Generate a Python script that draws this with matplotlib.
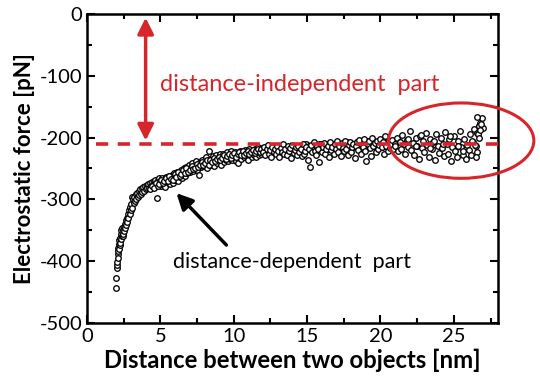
import numpy as np
import matplotlib.pyplot as plt
from matplotlib.patches import Ellipse
from matplotlib.ticker import MultipleLocator

plt.rcParams['font.family'] = ['Lato', 'DejaVu Sans']
plt.rcParams['axes.unicode_minus'] = False

# steep part, short distances
dist_near = [1.98, 2.00, 2.03, 2.05, 2.07, 2.09, 2.10, 2.12, 2.14, 2.16,
             2.18, 2.20, 2.23, 2.25, 2.28, 2.30, 2.33, 2.35, 2.38, 2.40,
             2.43, 2.46, 2.49, 2.52, 2.55, 2.58, 2.61, 2.64, 2.67, 2.70,
             2.74, 2.78, 2.82, 2.86, 2.90, 2.94, 2.98, 3.02, 3.07, 3.10,
             3.14, 3.18, 3.22, 3.27, 3.32, 3.37, 3.42, 3.47, 3.52, 3.57,
             3.62, 3.67, 3.72, 3.77, 3.82, 3.88, 3.94, 4.00, 4.06, 4.12,
             4.18, 4.24, 4.30, 4.36, 4.42, 4.48, 4.54, 4.60, 4.66, 4.72,
             4.77, 4.82, 4.88, 4.94]
force_near = [-443, -427, -411, -406, -401, -388, -395, -378, -384, -372,
              -380, -366, -374, -362, -370, -356, -364, -350, -359, -346,
              -360, -350, -356, -344, -352, -340, -347, -334, -341, -330,
              -336, -324, -330, -318, -324, -312, -318, -308, -296, -314,
              -300, -306, -296, -302, -292, -299, -289, -296, -286, -293,
              -284, -291, -282, -288, -280, -286, -279, -284, -277, -282,
              -275, -281, -274, -279, -272, -277, -270, -276, -269, -274,
              -298, -268, -273, -266]

# bending part
dist_mid = [5.00, 5.07, 5.14, 5.21, 5.28, 5.35, 5.42, 5.49, 5.56, 5.63,
            5.70, 5.77, 5.84, 5.91, 5.98, 6.05, 6.12, 6.19, 6.26, 6.33,
            6.40, 6.47, 6.54, 6.61, 6.68, 6.75, 6.82, 6.89, 6.96, 7.03,
            7.10, 7.17, 7.24, 7.31, 7.38, 7.45, 7.52, 7.59, 7.66, 7.73,
            7.80, 7.87, 7.94, 8.01, 8.08, 8.15, 8.22, 8.29, 8.36, 8.43,
            8.50, 8.57, 8.64, 8.71, 8.78, 8.85, 8.92, 8.99, 9.06, 9.13,
            9.20, 9.27, 9.34, 9.41, 9.48, 9.55, 9.62, 9.69, 9.76, 9.83,
            9.90, 9.97, 10.04, 10.11, 10.18, 10.25, 10.32, 10.39, 10.46, 10.53,
            10.60, 10.67, 10.74, 10.81, 10.88, 10.95, 11.02, 11.09, 11.16, 11.23,
            11.30, 11.37, 11.44, 11.51, 11.58, 11.65, 11.72, 11.79, 11.86, 11.93]
force_mid = [-270, -278, -266, -275, -268, -280, -264, -272, -262, -276,
             -266, -260, -273, -258, -268, -262, -255, -270, -258, -264,
             -252, -266, -256, -250, -262, -247, -258, -252, -244, -256,
             -248, -242, -254, -246, -250, -238, -252, -244, -260, -240,
             -248, -236, -246, -242, -232, -250, -238, -222, -244, -235,
             -240, -230, -246, -236, -228, -242, -233, -238, -226, -244,
             -232, -226, -240, -230, -236, -224, -238, -229, -234, -222,
             -236, -228, -232, -224, -238, -226, -241, -230, -222, -234,
             -226, -232, -220, -230, -224, -236, -219, -228, -225, -232,
             -222, -228, -218, -231, -224, -216, -229, -221, -226, -217]

# flat part
dist_far = [12.00, 12.08, 12.16, 12.24, 12.32, 12.40, 12.48, 12.56, 12.64, 12.72,
            12.80, 12.88, 12.96, 13.04, 13.12, 13.20, 13.28, 13.36, 13.44, 13.52,
            13.60, 13.68, 13.76, 13.84, 13.92, 14.00, 14.08, 14.16, 14.24, 14.32,
            14.40, 14.48, 14.56, 14.64, 14.72, 14.80, 14.88, 14.96, 15.04, 15.12,
            15.20, 15.28, 15.36, 15.44, 15.52, 15.60, 15.68, 15.76, 15.84, 15.92,
            16.00, 16.08, 16.16, 16.24, 16.32, 16.40, 16.48, 16.56, 16.64, 16.72,
            16.80, 16.88, 16.96, 17.04, 17.12, 17.20, 17.28, 17.36, 17.44, 17.52,
            17.60, 17.68, 17.76, 17.84, 17.92, 18.00, 18.08, 18.16, 18.24, 18.32,
            18.40, 18.48, 18.56, 18.64, 18.72, 18.80, 18.88, 18.96, 19.04, 19.12,
            19.20, 19.28, 19.36, 19.44, 19.52, 19.60, 19.68, 19.76, 19.84, 19.92,
            20.00, 20.08, 20.16, 20.24, 20.32, 20.40, 20.48, 20.56, 20.64, 20.72,
            20.80, 20.88, 20.96]
force_far = [-224, -216, -228, -219, -212, -226, -220, -231, -215, -223,
             -218, -227, -213, -221, -232, -217, -224, -211, -226, -219,
             -229, -214, -222, -217, -233, -212, -225, -220, -216, -228,
             -213, -223, -218, -230, -210, -226, -221, -215, -236, -219,
             -247, -212, -224, -208, -221, -229, -214, -219, -240, -211,
             -223, -216, -209, -227, -218, -213, -231, -207, -220, -215,
             -226, -211, -219, -206, -224, -214, -230, -209, -217, -222,
             -205, -218, -228, -212, -208, -223, -215, -210, -233, -213,
             -207, -220, -204, -226, -212, -216, -203, -222, -238, -211,
             -206, -217, -230, -201, -214, -209, -224, -205, -219, -212,
             -203, -216, -208, -227, -198, -213, -221, -206, -217, -210,
             -204, -219, -211]

# second sweep filling the band between 4 and 21 nm
dist_fill = [4.33, 4.45, 4.57, 4.69, 4.81, 4.93, 5.04, 5.16, 5.27, 5.39,
             5.51, 5.62, 5.74, 5.85, 5.97, 6.09, 6.20, 6.32, 6.43, 6.55,
             6.67, 6.78, 6.90, 7.01, 7.13, 7.25, 7.36, 7.48, 7.59, 7.71,
             7.83, 7.94, 8.06, 8.17, 8.29, 8.41, 8.52, 8.64, 8.75, 8.87,
             8.99, 9.10, 9.22, 9.33, 9.45, 9.57, 9.68, 9.80, 9.91, 10.03,
             10.15, 10.26, 10.38, 10.49, 10.61, 10.73, 10.84, 10.96, 11.07, 11.19,
             11.31, 11.42, 11.54, 11.65, 11.77, 11.89, 12.00, 12.12, 12.23, 12.35,
             12.47, 12.58, 12.70, 12.81, 12.93, 13.05, 13.16, 13.28, 13.39, 13.51,
             13.63, 13.74, 13.86, 13.97, 14.09, 14.21, 14.32, 14.44, 14.55, 14.67,
             14.79, 14.90, 15.02, 15.13, 15.25, 15.37, 15.48, 15.60, 15.71, 15.83,
             15.95, 16.06, 16.18, 16.29, 16.41, 16.53, 16.64, 16.76, 16.87, 16.99,
             17.11, 17.22, 17.34, 17.45, 17.57, 17.69, 17.80, 17.92, 18.03, 18.15,
             18.27, 18.38, 18.50, 18.61, 18.73, 18.85, 18.96, 19.08, 19.19, 19.31,
             19.43, 19.54, 19.66, 19.77, 19.89, 20.01, 20.12, 20.24, 20.35, 20.47,
             20.59, 20.70, 20.82, 20.93]
force_fill = [-283, -278, -281, -274, -279, -276, -268, -273, -270, -266,
              -271, -263, -267, -269, -259, -264, -256, -262, -259, -253,
              -258, -250, -255, -253, -246, -251, -249, -243, -248, -245,
              -239, -245, -241, -237, -244, -236, -240, -233, -238, -234,
              -231, -237, -233, -228, -235, -230, -227, -233, -229, -225,
              -231, -227, -224, -229, -222, -228, -225, -221, -227, -223,
              -220, -225, -222, -219, -224, -218, -223, -220, -217, -225,
              -221, -216, -223, -219, -215, -222, -218, -220, -214, -221,
              -217, -222, -215, -219, -213, -221, -216, -218, -214, -220,
              -215, -211, -218, -214, -220, -212, -217, -213, -216, -210,
              -218, -213, -216, -211, -219, -214, -210, -217, -212, -215,
              -209, -216, -213, -211, -218, -208, -214, -212, -210, -216,
              -211, -207, -215, -213, -209, -217, -210, -206, -214, -212,
              -208, -213, -210, -215, -207, -211, -216, -209, -212, -205,
              -213, -210, -215, -208]

# circled region at large distance
dist_end = [21.0, 21.1, 21.2, 21.3, 21.4, 21.5, 21.6, 21.7, 21.8, 21.9,
            22.0, 22.1, 22.2, 22.3, 22.4, 22.5, 22.6, 22.7, 22.8, 22.9,
            23.0, 23.1, 23.2, 23.3, 23.4, 23.5, 23.6, 23.7, 23.8, 23.9,
            24.0, 24.1, 24.2, 24.3, 24.4, 24.5, 24.6, 24.7, 24.8, 24.9,
            25.0, 25.1, 25.2, 25.3, 25.4, 25.5, 25.6, 25.7, 25.8, 25.9,
            26.0, 26.1, 26.2, 26.3, 26.4, 26.5, 26.6, 26.7, 26.8, 26.9,
            27.0,
            21.35, 21.85, 22.45, 22.75, 23.35, 23.65, 24.25, 24.75, 25.25, 25.65,
            26.25, 26.45, 26.55, 26.62, 26.68, 26.72, 26.78, 26.85, 26.6, 26.5]
force_end = [-214, -200, -222, -207, -218, -196, -211, -226, -204, -215,
             -190, -220, -209, -229, -201, -213, -234, -198, -217, -206,
             -223, -193, -212, -231, -203, -219, -208, -236, -195, -214,
             -225, -200, -217, -230, -191, -210, -227, -203, -238, -215,
             -197, -221, -232, -206, -189, -216, -228, -202, -234, -212,
             -220, -194, -229, -207, -186, -213, -192, -181, -176, -169,
             -184,
             -208, -203, -213, -196, -217, -205, -211, -198, -214, -222,
             -205, -212, -224, -195, -182, -200, -188, -178, -167, -232]

offset_level = -211
red = '#d7262b'

dist = np.concatenate([dist_near, dist_mid, dist_fill, dist_far, dist_end])
force = np.concatenate([force_near, force_mid, force_fill, force_far, force_end])

fig = plt.figure(figsize=(5.4, 3.89), dpi=100)
ax = fig.add_axes([0.161, 0.170, 0.761, 0.794])

ax.plot(dist, force, 'o', ms=4.0, mfc='white', mec='black', mew=0.95, zorder=3)

ax.plot([0.6, 28.6], [offset_level, offset_level], color=red, lw=2.6,
        dashes=(3.4, 2.6), clip_on=False, zorder=4)

ax.annotate('', xy=(4.0, -6), xytext=(4.0, -205),
            arrowprops=dict(arrowstyle='<|-|>', color=red, lw=2.5,
                            mutation_scale=24, shrinkA=0, shrinkB=0))
ax.text(5.0, -114, 'distance-independent  part', color=red, fontsize=17,
        ha='left', va='center')

ax.add_patch(Ellipse((25.5, -205), width=9.9, height=122, fill=False,
                     edgecolor=red, lw=2.2, clip_on=False, zorder=5))

ax.annotate('', xy=(6.1, -290), xytext=(9.5, -374),
            arrowprops=dict(arrowstyle='-|>', color='black', lw=2.5,
                            mutation_scale=24, shrinkA=0, shrinkB=0))
ax.text(14.0, -401, 'distance-dependent  part', color='black', fontsize=15.5,
        ha='center', va='center')

ax.set_xlim(0, 28)
ax.set_ylim(-500, 0)
ax.xaxis.set_major_locator(MultipleLocator(5))
ax.xaxis.set_minor_locator(MultipleLocator(2.5))
ax.yaxis.set_major_locator(MultipleLocator(100))
ax.yaxis.set_minor_locator(MultipleLocator(50))
ax.tick_params(which='both', direction='in', top=True, right=True, width=1.5,
               labelsize=14.5)
ax.tick_params(which='major', length=6)
ax.tick_params(which='minor', length=3.5)
for s in ax.spines.values():
    s.set_linewidth(1.8)

ax.set_xlabel('Distance between two objects [nm]', fontsize=17.2,
              fontweight='bold', labelpad=3)
ax.set_ylabel('Electrostatic force [pN]', fontsize=16, fontweight='bold',
              labelpad=3)

fig.savefig('out.png', dpi=100)
